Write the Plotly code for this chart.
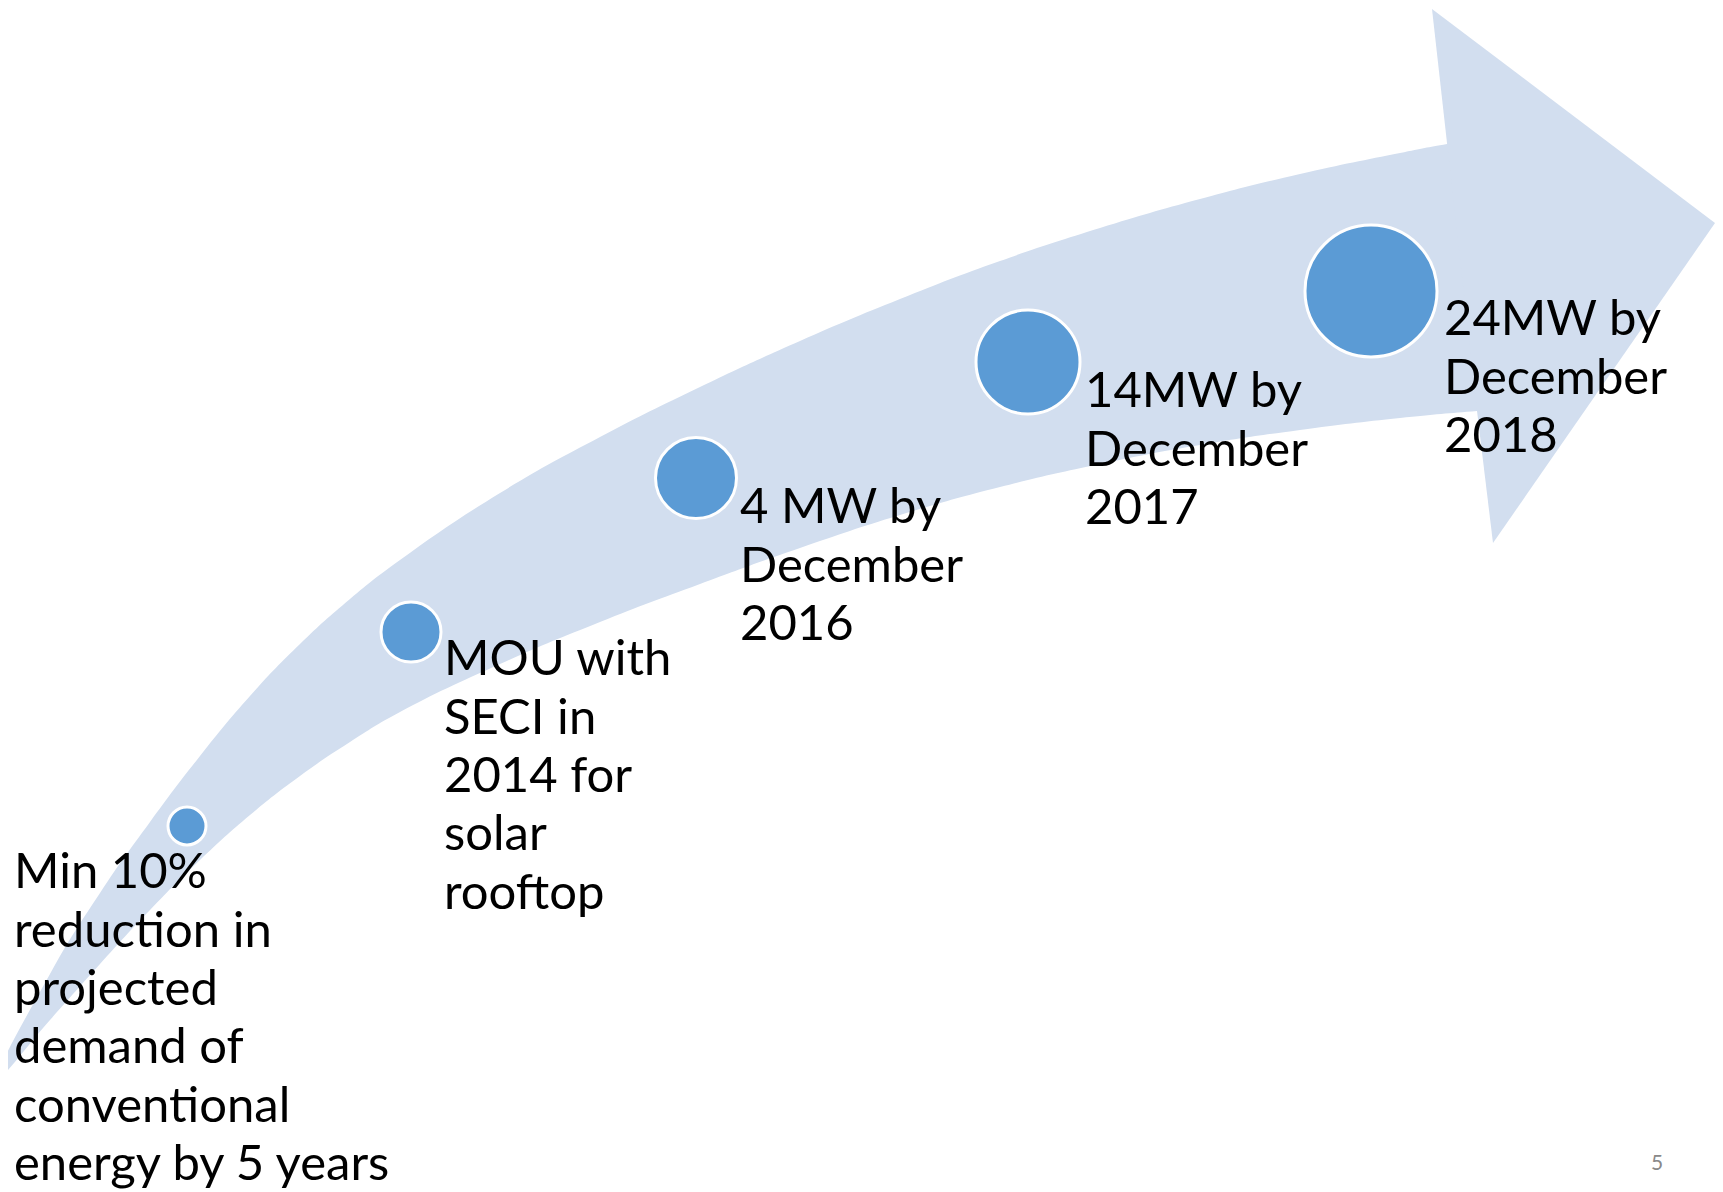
import plotly.graph_objects as go

W, H = 1723, 1192
PAD = 8  # default page margin of the html body

# ---- data: milestones along the arrow ----
stages = ["Min 10% reduction", "MOU with SECI", "4 MW", "14MW", "24MW"]
stage_x = [187, 411, 696, 1028, 1371]
stage_y = [826, 632, 478, 362, 291]
stage_diam = [38, 60, 81, 104, 132]

label_lines = [
    ["Min 10%", "reduction in", "projected", "demand of", "conventional", "energy by 5 years"],
    ["MOU with", "SECI in", "2014 for", "solar", "rooftop"],
    ["4 MW by", "December", "2016"],
    ["14MW by", "December", "2017"],
    ["24MW by", "December", "2018"],
]
label_x = [12, 442, 738, 1083, 1442]
label_first_baseline = [889, 676, 524, 408, 336]
LINE_STEP = 58.4

# ---- arrow outline ----
upper_edge_x = [-2, 50, 100, 150, 200, 250, 300, 350, 400, 500, 600, 700, 800, 900, 1000,
                1100, 1200, 1300, 1400, 1447, 1500]
upper_edge_y = [1078, 974, 893, 822, 756, 696, 644, 599, 560, 493, 437, 387, 341, 299, 261,
                228, 199, 174, 153, 144, 136]
lower_edge_x = [1520, 1477, 1400, 1300, 1200, 1100, 1000, 900, 800, 700, 600, 500,
                400, 350, 300, 250, 200, 150, 100, 50, -2]
lower_edge_y = [408, 411, 418, 430, 445, 464, 487, 515, 548, 584, 622, 664,
                712, 742, 776, 815, 860, 910, 964, 1020, 1078]
head_x = [1432, 1715, 1493, 1477, 1447]
head_y = [9, 223, 543, 411, 143]

ARROW = "#D2DEEF"
DOT = "#5B9BD5"
FONT = "Lato, Calibri, Carlito, sans-serif"
FS = 49

fig = go.Figure()

fig.add_trace(go.Scatter(
    x=upper_edge_x + lower_edge_x, y=upper_edge_y + lower_edge_y,
    mode="lines", line=dict(width=0, shape="spline", smoothing=1.3, color=ARROW),
    fill="toself", fillcolor=ARROW, hoverinfo="skip", showlegend=False))
fig.add_trace(go.Scatter(
    x=head_x, y=head_y, mode="lines", line=dict(width=0, color=ARROW),
    fill="toself", fillcolor=ARROW, hoverinfo="skip", showlegend=False))

fig.add_trace(go.Scatter(
    x=stage_x, y=stage_y, mode="markers", text=stages, hoverinfo="text",
    marker=dict(size=stage_diam, color=DOT, opacity=1,
                line=dict(color="white", width=3)),
    showlegend=False))

annotations = []
for lines, lx, fb in zip(label_lines, label_x, label_first_baseline):
    for i, line in enumerate(lines):
        base = fb + i * LINE_STEP
        annotations.append(dict(
            x=lx, y=base, xref="x", yref="y", text=line, showarrow=False,
            xanchor="left", yanchor="bottom", yshift=-0.23 * FS,
            font=dict(family=FONT, size=FS, color="black")))

annotations.append(dict(
    x=1657, y=1161, xref="x", yref="y", text="5", showarrow=False,
    xanchor="center", yanchor="middle",
    font=dict(family=FONT, size=21, color="#898989")))

fig.update_layout(
    width=W - PAD, height=H - PAD, margin=dict(l=0, r=0, t=0, b=0),
    paper_bgcolor="white", plot_bgcolor="white",
    xaxis=dict(range=[PAD, W], visible=False, fixedrange=True),
    yaxis=dict(range=[H, PAD], visible=False, fixedrange=True),
    annotations=annotations, showlegend=False)

fig.write_html("out.html")
